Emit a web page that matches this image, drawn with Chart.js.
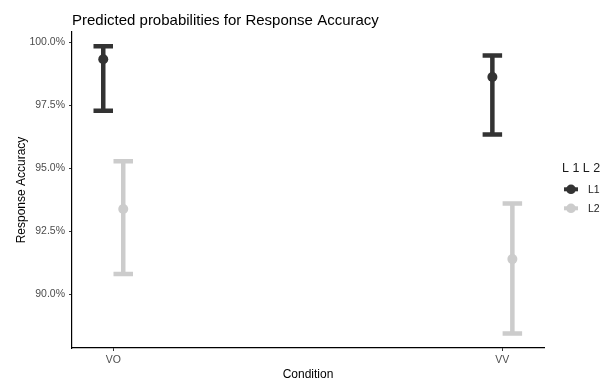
<!DOCTYPE html>
<html>
<head>
<meta charset="utf-8">
<script src="https://cdn.jsdelivr.net/npm/chart.js@4.4.1/dist/chart.umd.min.js"></script>
<style>
  html, body { margin: 0; padding: 0; background: #ffffff; }
  #wrap { width: 606px; height: 383px; }
</style>
</head>
<body>
<div id="wrap"><canvas id="c" width="606" height="383"></canvas></div>
<script>
// Conditions on the x axis
const categories = ['VO', 'VV'];

// Predicted accuracy (%) with confidence interval, per language group
const l1Est = [99.34, 98.63];
const l1Lo  = [97.29, 96.35];
const l1Hi  = [99.85, 99.49];

const l2Est = [93.39, 91.40];
const l2Lo  = [90.81, 88.45];
const l2Hi  = [95.29, 93.61];

// Y axis tick values (%)
const yTicks = [90, 92.5, 95, 97.5, 100];

const FONT = "'Liberation Sans', Arial, sans-serif";
const DODGE = 0.0257;           // horizontal dodge between groups (category units)
const COL_L1 = '#333333';
const COL_L2 = '#cccccc';

function points(est, shift) {
  return est.map((v, i) => ({ x: i + 1 + shift, y: v }));
}

// Draws vertical error bars with end caps for every dataset that has errLo/errHi
const errorBars = {
  id: 'errorBars',
  beforeDatasetsDraw(chart) {
    const { ctx, scales: { x, y } } = chart;
    chart.data.datasets.forEach(ds => {
      if (!ds.errLo) return;
      ctx.save();
      ctx.strokeStyle = ds.backgroundColor;
      ctx.lineWidth = 4.5;
      ctx.lineCap = 'butt';
      ds.data.forEach((p, i) => {
        const px = x.getPixelForValue(p.x);
        const yl = y.getPixelForValue(ds.errLo[i]);
        const yh = y.getPixelForValue(ds.errHi[i]);
        const half = 9.75;
        ctx.beginPath();
        ctx.moveTo(px, yl);
        ctx.lineTo(px, yh);
        ctx.moveTo(px - half, yl);
        ctx.lineTo(px + half, yl);
        ctx.moveTo(px - half, yh);
        ctx.lineTo(px + half, yh);
        ctx.stroke();
      });
      ctx.restore();
    });
  }
};

// Plot title (left-aligned with the panel) and the legend at the right
const decorations = {
  id: 'decorations',
  afterDraw(chart) {
    const { ctx, chartArea } = chart;
    ctx.save();
    ctx.fillStyle = '#000000';
    ctx.font = '15px ' + FONT;
    ctx.textBaseline = 'alphabetic';
    ctx.textAlign = 'left';
    ctx.fillText('Predicted probabilities for Response Accuracy', chartArea.left, 25);

    // legend
    const lx = 562;
    ctx.fillStyle = '#1a1a1a';
    ctx.font = '12.5px ' + FONT;
    ctx.textBaseline = 'middle';
    ctx.fillText('L 1 L 2', lx, 169);
    const rows = [189.3, 208.3];
    chart.data.datasets.forEach((ds, i) => {
      const yy = rows[i];
      ctx.strokeStyle = ds.backgroundColor;
      ctx.fillStyle = ds.backgroundColor;
      ctx.lineWidth = 4;
      ctx.beginPath();
      ctx.moveTo(564, yy);
      ctx.lineTo(578, yy);
      ctx.stroke();
      ctx.beginPath();
      ctx.arc(571, yy, 4.8, 0, Math.PI * 2);
      ctx.fill();
      ctx.fillStyle = '#1a1a1a';
      ctx.font = '10.5px ' + FONT;
      ctx.fillText(ds.label, 588, yy + 0.5);
    });
    ctx.restore();
  }
};

new Chart(document.getElementById('c'), {
  type: 'scatter',
  data: {
    datasets: [
      { label: 'L1', data: points(l1Est, -DODGE), errLo: l1Lo, errHi: l1Hi,
        backgroundColor: COL_L1, borderColor: COL_L1, pointRadius: 5, pointBorderWidth: 0, pointHoverRadius: 5 },
      { label: 'L2', data: points(l2Est, DODGE), errLo: l2Lo, errHi: l2Hi,
        backgroundColor: COL_L2, borderColor: COL_L2, pointRadius: 5, pointBorderWidth: 0, pointHoverRadius: 5 }
    ]
  },
  options: {
    responsive: false,
    animation: false,
    layout: { padding: { top: 32, right: 62, bottom: 0, left: 0 } },
    plugins: {
      legend: { display: false },
      title: { display: false },
      tooltip: { enabled: false }
    },
    scales: {
      x: {
        type: 'linear',
        min: 0.894,
        max: 2.107,
        afterBuildTicks(scale) { scale.ticks = categories.map((c, i) => ({ value: i + 1 })); },
        afterFit(scale) { scale.height = 35; },
        grid: { display: true, drawOnChartArea: false, drawTicks: true, tickLength: 3, color: '#333333', lineWidth: 1 },
        border: { display: true, color: '#000000', width: 1.2 },
        ticks: {
          color: '#4d4d4d',
          font: { family: FONT, size: 10.5 },
          padding: 3,
          autoSkip: false,
          maxRotation: 0,
          callback: (v) => categories[Math.round(v) - 1] ?? ''
        },
        title: { display: true, text: 'Condition', color: '#000000',
                 font: { family: FONT, size: 12, lineHeight: 1.2 }, padding: { top: 0, bottom: 1 } }
      },
      y: {
        type: 'linear',
        min: 87.87,
        max: 100.42,
        afterBuildTicks(scale) { scale.ticks = yTicks.map(v => ({ value: v })); },
        afterFit(scale) { scale.width = 72; },
        grid: { display: true, drawOnChartArea: false, drawTicks: true, tickLength: 3, color: '#333333', lineWidth: 1 },
        border: { display: true, color: '#000000', width: 1.2 },
        ticks: {
          color: '#4d4d4d',
          font: { family: FONT, size: 10.5 },
          padding: 4,
          callback: (v) => v.toFixed(1) + '%'
        },
        title: { display: true, text: 'Response Accuracy', color: '#000000',
                 font: { family: FONT, size: 12, lineHeight: 1.2 }, padding: { top: 14, bottom: 0 } }
      }
    }
  },
  plugins: [errorBars, decorations]
});
</script>
</body>
</html>
